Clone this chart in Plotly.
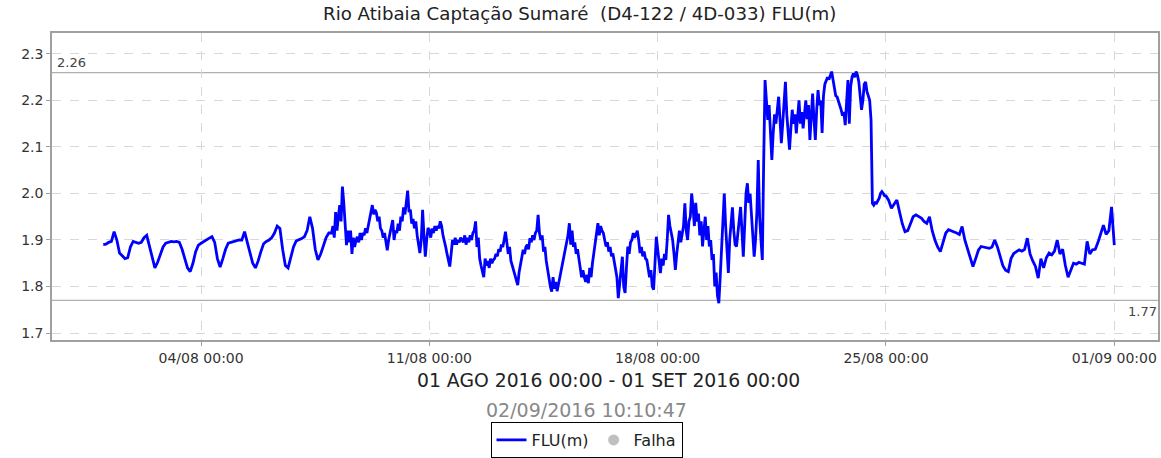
import pandas as pd
import plotly.graph_objects as go

# ---- FLU(m) readings ----
# calm period, every 2 hours, 01/08 00:00 .. 07/08 22:00 (one row per day)
aug01_07 = [
    1.890, 1.891, 1.895, 1.897, 1.918, 1.900, 1.872, 1.865, 1.860, 1.862, 1.885, 1.897,
    1.895, 1.893, 1.895, 1.905, 1.910, 1.885, 1.858, 1.840, 1.852, 1.870, 1.885, 1.893,
    1.895, 1.897, 1.896, 1.897, 1.895, 1.880, 1.860, 1.840, 1.832, 1.850, 1.875, 1.889,
    1.893, 1.897, 1.900, 1.904, 1.907, 1.895, 1.860, 1.842, 1.860, 1.880, 1.893, 1.895,
    1.897, 1.898, 1.900, 1.900, 1.918, 1.895, 1.870, 1.850, 1.840, 1.855, 1.875, 1.892,
    1.897, 1.900, 1.905, 1.915, 1.930, 1.925, 1.880, 1.845, 1.840, 1.860, 1.885, 1.898,
    1.900, 1.903, 1.907, 1.920, 1.950, 1.925, 1.880, 1.857, 1.870, 1.890, 1.905, 1.915,
]
# noisy period, hourly, 08/08 00:00 .. 24/08 23:00 (one row per day)
aug08_12 = [
    1.915, 1.930, 1.905, 1.960, 1.920, 1.950, 1.975, 1.940, 2.015, 1.980, 1.930, 1.889,
    1.920, 1.895, 1.920, 1.870, 1.905, 1.885, 1.900, 1.907, 1.895, 1.915, 1.900, 1.915,
    1.910, 1.925, 1.915, 1.935, 1.945, 1.960, 1.975, 1.955, 1.965, 1.958, 1.940, 1.950,
    1.925, 1.920, 1.905, 1.915, 1.890, 1.878, 1.900, 1.915, 1.930, 1.943, 1.900, 1.920,
    1.915, 1.935, 1.920, 1.950, 1.940, 1.970, 1.955, 1.975, 2.006, 1.960, 1.965, 1.935,
    1.945, 1.925, 1.940, 1.910, 1.895, 1.872, 1.900, 1.965, 1.910, 1.864, 1.900, 1.926,
    1.920, 1.905, 1.925, 1.915, 1.930, 1.920, 1.930, 1.925, 1.940, 1.930, 1.910, 1.900,
    1.885, 1.870, 1.855, 1.843, 1.870, 1.900, 1.890, 1.905, 1.890, 1.900, 1.895, 1.905,
    1.900, 1.895, 1.910, 1.890, 1.905, 1.895, 1.910, 1.900, 1.915, 1.920, 1.940, 1.885,
    1.905, 1.860, 1.845, 1.830, 1.820, 1.860, 1.845, 1.855, 1.840, 1.860, 1.850, 1.857,
]
aug13_17 = [
    1.860, 1.870, 1.865, 1.880, 1.875, 1.890, 1.885, 1.900, 1.918, 1.895, 1.870, 1.885,
    1.855, 1.845, 1.835, 1.820, 1.810, 1.803, 1.830, 1.845, 1.860, 1.879, 1.870, 1.885,
    1.890, 1.880, 1.904, 1.895, 1.910, 1.900, 1.915, 1.920, 1.954, 1.915, 1.900, 1.910,
    1.875, 1.885, 1.855, 1.835, 1.810, 1.800, 1.789, 1.820, 1.795, 1.810, 1.790, 1.805,
    1.814, 1.830, 1.845, 1.860, 1.880, 1.895, 1.910, 1.936, 1.890, 1.920, 1.885, 1.895,
    1.870, 1.880, 1.855, 1.840, 1.820, 1.835, 1.820, 1.810, 1.825, 1.807, 1.840, 1.820,
    1.850, 1.870, 1.885, 1.905, 1.936, 1.910, 1.930, 1.920, 1.915, 1.900, 1.886, 1.895,
    1.875, 1.885, 1.865, 1.871, 1.855, 1.840, 1.820, 1.775, 1.810, 1.845, 1.864, 1.800,
    1.786, 1.840, 1.886, 1.870, 1.895, 1.900, 1.915, 1.905, 1.915, 1.920, 1.900, 1.872,
    1.885, 1.865, 1.875, 1.860, 1.857, 1.840, 1.820, 1.835, 1.800, 1.793, 1.840, 1.907,
]
aug18_21 = [
    1.880, 1.850, 1.829, 1.860, 1.845, 1.870, 1.857, 1.900, 1.954, 1.930, 1.914, 1.900,
    1.870, 1.836, 1.870, 1.900, 1.920, 1.895, 1.915, 1.930, 1.979, 1.920, 1.900, 1.940,
    1.950, 2.000, 1.970, 1.930, 1.980, 1.940, 1.957, 1.910, 1.940, 1.886, 1.920, 1.950,
    1.900, 1.930, 1.886, 1.900, 1.857, 1.870, 1.800, 1.830, 1.780, 1.764, 1.820, 1.886,
    1.950, 2.000, 1.930, 1.880, 1.829, 1.900, 1.940, 1.970, 1.920, 1.890, 1.886, 1.910,
    1.940, 1.971, 1.920, 1.864, 1.930, 2.000, 2.022, 1.980, 2.000, 1.950, 1.900, 1.864,
    1.900, 1.960, 2.072, 1.950, 1.900, 1.857, 2.070, 2.244, 2.200, 2.158, 2.190, 2.120,
    2.072, 2.130, 2.170, 2.150, 2.190, 2.208, 2.160, 2.108, 2.150, 2.190, 2.240, 2.170,
]
aug22_24 = [
    2.120, 2.094, 2.140, 2.180, 2.150, 2.170, 2.129, 2.160, 2.200, 2.150, 2.175, 2.140,
    2.180, 2.200, 2.160, 2.190, 2.115, 2.170, 2.215, 2.160, 2.115, 2.180, 2.222, 2.190,
    2.200, 2.130, 2.210, 2.235, 2.244, 2.250, 2.245, 2.255, 2.262, 2.245, 2.225, 2.210,
    2.208, 2.200, 2.190, 2.180, 2.167, 2.175, 2.147, 2.200, 2.244, 2.150, 2.230, 2.250,
    2.258, 2.250, 2.262, 2.255, 2.240, 2.210, 2.180, 2.200, 2.235, 2.240, 2.219, 2.210,
    2.200, 2.158, 1.979, 1.975, 1.980, 1.979, 1.985, 1.990, 2.000, 2.004, 2.000, 1.995,
]
# calm period, every 2 hours, 25/08 00:00 .. 01/09 00:00
aug25_31 = [
    1.995, 1.985, 1.968, 1.978, 1.986, 1.960, 1.935, 1.918, 1.920, 1.935, 1.950, 1.954,
    1.950, 1.947, 1.940, 1.936, 1.950, 1.920, 1.900, 1.885, 1.875, 1.895, 1.915, 1.922,
    1.920, 1.918, 1.915, 1.912, 1.929, 1.900, 1.882, 1.860, 1.843, 1.860, 1.878, 1.886,
    1.885, 1.884, 1.882, 1.885, 1.900, 1.885, 1.864, 1.845, 1.835, 1.832, 1.860, 1.871,
    1.875, 1.879, 1.876, 1.880, 1.904, 1.870, 1.855, 1.843, 1.818, 1.860, 1.840, 1.862,
    1.872, 1.868, 1.876, 1.900, 1.870, 1.880, 1.845, 1.820, 1.835, 1.850, 1.848, 1.852,
    1.850, 1.848, 1.897, 1.870, 1.879, 1.880, 1.895, 1.914, 1.932, 1.912, 1.920, 1.971,
    1.889,
]

calm_a = aug01_07
noisy = aug08_12 + aug13_17 + aug18_21 + aug22_24
calm_b = aug25_31
flu_times = (
    list(pd.date_range("2016-08-01 00:00", periods=len(calm_a), freq="2h"))
    + list(pd.date_range("2016-08-08 00:00", periods=len(noisy), freq="1h"))
    + list(pd.date_range("2016-08-25 00:00", periods=len(calm_b), freq="2h"))
)
flu_values = calm_a + noisy + calm_b

tick_dates = ["2016-08-04", "2016-08-11", "2016-08-18", "2016-08-25", "2016-09-01"]
tick_labels = ["04/08 00:00", "11/08 00:00", "18/08 00:00", "25/08 00:00", "01/09 00:00"]
y_ticks = [1.7, 1.8, 1.9, 2.0, 2.1, 2.2, 2.3]
max_level = 2.26
min_level = 1.77

title_text = "Rio Atibaia Captação Sumaré  (D4-122 / 4D-033) FLU(m)"
period_text = "01 AGO 2016 00:00 - 01 SET 2016 00:00"
stamp_text = "02/09/2016 10:10:47"

FONT = "DejaVu Sans"
PLOT_L, PLOT_R, PLOT_T, PLOT_B = 52, 1158, 33, 340
W, H = 1161, 458
PW, PH = PLOT_R - PLOT_L, PLOT_B - PLOT_T


def px(x):
    return (x - PLOT_L) / PW


def py(y):
    return (PLOT_B - y) / PH


fig = go.Figure()
fig.add_trace(go.Scatter(
    x=flu_times, y=flu_values, mode="lines", name="FLU(m)",
    line=dict(color="#0000ff", width=2.8),
))
fig.add_trace(go.Scatter(
    x=[None], y=[None], mode="markers", name="Falha",
    marker=dict(color="#c0c0c0", size=11),
))

for lvl in (max_level, min_level):
    fig.add_shape(type="line", xref="paper", yref="y", x0=0, x1=1, y0=lvl, y1=lvl,
                  line=dict(color="#b0b0b0", width=1.3), layer="below")

fig.add_annotation(xref="paper", yref="y", x=px(55), y=max_level, text=f"{max_level:.2f}",
                   showarrow=False, xanchor="left", yanchor="bottom", yshift=1,
                   font=dict(family=FONT, size=13, color="#444"))
fig.add_annotation(xref="paper", yref="y", x=px(1159), y=min_level, text=f"{min_level:.2f}",
                   showarrow=False, xanchor="right", yanchor="top", yshift=-2,
                   font=dict(family=FONT, size=13, color="#444"))

fig.add_annotation(xref="paper", yref="paper", x=px(579), y=py(14), text=title_text,
                   showarrow=False, xanchor="center", yanchor="middle",
                   font=dict(family=FONT, size=18.2, color="#222"))
fig.add_annotation(xref="paper", yref="paper", x=px(608.5), y=py(380),
                   text=period_text, showarrow=False, xanchor="center", yanchor="middle",
                   font=dict(family=FONT, size=18.8, color="#222"))
fig.add_annotation(xref="paper", yref="paper", x=px(586.5), y=py(410),
                   text=stamp_text, showarrow=False, xanchor="center", yanchor="middle",
                   font=dict(family=FONT, size=19, color="#888"))

fig.update_layout(
    width=W, height=H,
    margin=dict(l=PLOT_L, r=W - PLOT_R, t=PLOT_T, b=H - PLOT_B, autoexpand=False),
    paper_bgcolor="white", plot_bgcolor="white",
    font=dict(family=FONT, color="#333"),
    showlegend=True,
    legend=dict(orientation="h", x=px(586.5), xanchor="center", y=py(422), yanchor="top",
                bordercolor="#000", borderwidth=1, bgcolor="white",
                font=dict(family=FONT, size=16, color="#222"),
                itemwidth=30, tracegroupgap=0, traceorder="normal"),
)
fig.update_xaxes(
    range=["2016-07-30 10:17", "2016-09-02 08:10"], automargin=False,
    tickvals=tick_dates, ticktext=tick_labels,
    showgrid=True, gridcolor="#d8d8d8", griddash="dash", gridwidth=1,
    showline=True, linecolor="#a0a0a0", linewidth=1.5, mirror=True,
    ticks="outside", ticklen=4, tickcolor="#a0a0a0",
    tickfont=dict(family=FONT, size=14, color="#333"), zeroline=False,
)
fig.update_yaxes(
    range=[1.685, 2.345], automargin=False, tickvals=y_ticks, tickformat=".1f",
    showgrid=True, gridcolor="#d8d8d8", griddash="dash", gridwidth=1,
    showline=True, linecolor="#a0a0a0", linewidth=1.5, mirror=True,
    ticks="outside", ticklen=4, tickcolor="#a0a0a0",
    tickfont=dict(family=FONT, size=14, color="#333"), zeroline=False,
)

# the page's default 8px body margin would shift the figure; remove it
fig.write_html("out.html", config={"displayModeBar": False},
               post_script="document.body.style.margin='0';")
